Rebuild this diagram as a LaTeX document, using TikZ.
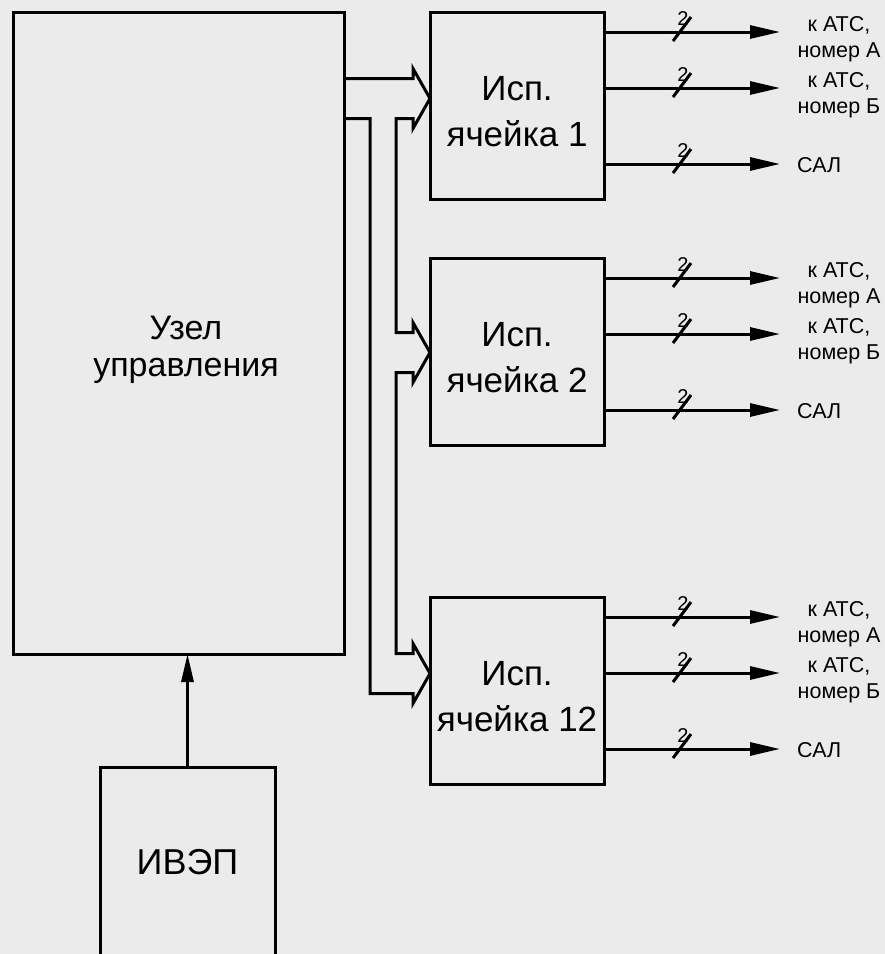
\documentclass[tikz,border=0pt]{standalone}
\usepackage{fontspec}
\setmainfont{Liberation Sans}
\usetikzlibrary{calc, arrows.meta}

\definecolor{bgcol}{RGB}{235,235,235}

\tikzset{
  box/.style={draw, line width=3pt, outer sep=0pt, inner sep=0pt, align=center},
  wire/.style={line width=3pt},
  outarr/.style={line width=3pt, -{Triangle[length=30pt,width=13pt]}},
  chev/.style={insert path={-- ++(0,-10) -- ++(17,30) -- ++(-17,30) -- ++(0,-10)}},
  celltext/.style={font=\fontsize{35}{46}\selectfont, inner sep=0pt, align=center},
  num/.style={font=\fontsize{20}{20}\selectfont, inner sep=0pt},
  lab/.style={font=\fontsize{21.5}{26}\selectfont, inner sep=0pt, align=center},
}

\begin{document}
\begin{tikzpicture}[x=1pt, y=-1pt]
\useasboundingbox (0,0) rectangle (885,954);
\clip (0,0) rectangle (885,954);
\fill[bgcol] (0,0) rectangle (885,954);

% blocks
\node[box, minimum width=331pt, minimum height=642pt] (u) at (178.5,333) {};
\node[font=\fontsize{34}{37}\selectfont, align=center] (ut) at (186,350) {Узел\\управления};
\node[box, minimum width=175pt, minimum height=190pt, font=\fontsize{36}{40}\selectfont] (iv) at (187.5,862) {ИВЭП};
\node[box, minimum width=174pt, minimum height=187pt] (c1) at (517,105.5) {};
\node[box, minimum width=174pt, minimum height=187pt] (c2) at (517,351.5) {};
\node[box, minimum width=174pt, minimum height=187pt] (c12) at (517,690.5) {};
\foreach \c/\t in {c1/1, c2/2, c12/12}
  \node[celltext] (\c-t) at ($(\c)+(0,6)$) {Исп.\\ячейка \t};

% power
\draw[line width=3pt, -{Triangle[length=28pt,width=12pt]}] (iv.north) -- (iv.north |- u.south);

% control bus (ring through the cells)
\coordinate (in1) at ($(c1.north west)+(0,86.5)$);
\coordinate (in2) at ($(c2.north west)+(0,94.5)$);
\coordinate (in12) at ($(c12.north west)+(0,76.5)$);
\draw[wire] (u.east |- in1) ++(0,-20) -- ($(in1)+(-17,-20)$) [chev]
  -- ++(-17,0) |- ($(in2)+(-17,-20)$) [chev]
  -- ++(-17,0) |- ($(in12)+(-17,-20)$) [chev]
  -- ++(-43,0) |- ($(u.east |- in1)+(0,20)$);

% outputs
\foreach \c in {c1,c2,c12}{
  \foreach \k/\d in {a/20,b/76,s/152}{
    \coordinate (\c-\k) at ($(\c.north east)+(176,\d)$);
    \draw[outarr] (\c.east |- \c-\k) -- (\c-\k);
    \draw[wire] ($(\c-\k)+(-107,9)$) -- ++(18,-24);
    \node[num] (\c-n\k) at ($(\c-\k)+(-97,-13)$) {2};
  }
  \node[lab] (\c-la) at ($(\c-a)+(59,7)$) {к АТС,\\номер А};
  \node[lab] (\c-lb) at ($(\c-b)+(59,7)$) {к АТС,\\номер Б};
  \node[lab, anchor=west] (\c-ls) at ($(\c-s)+(17,1)$) {САЛ};
}
\end{tikzpicture}
\end{document}
